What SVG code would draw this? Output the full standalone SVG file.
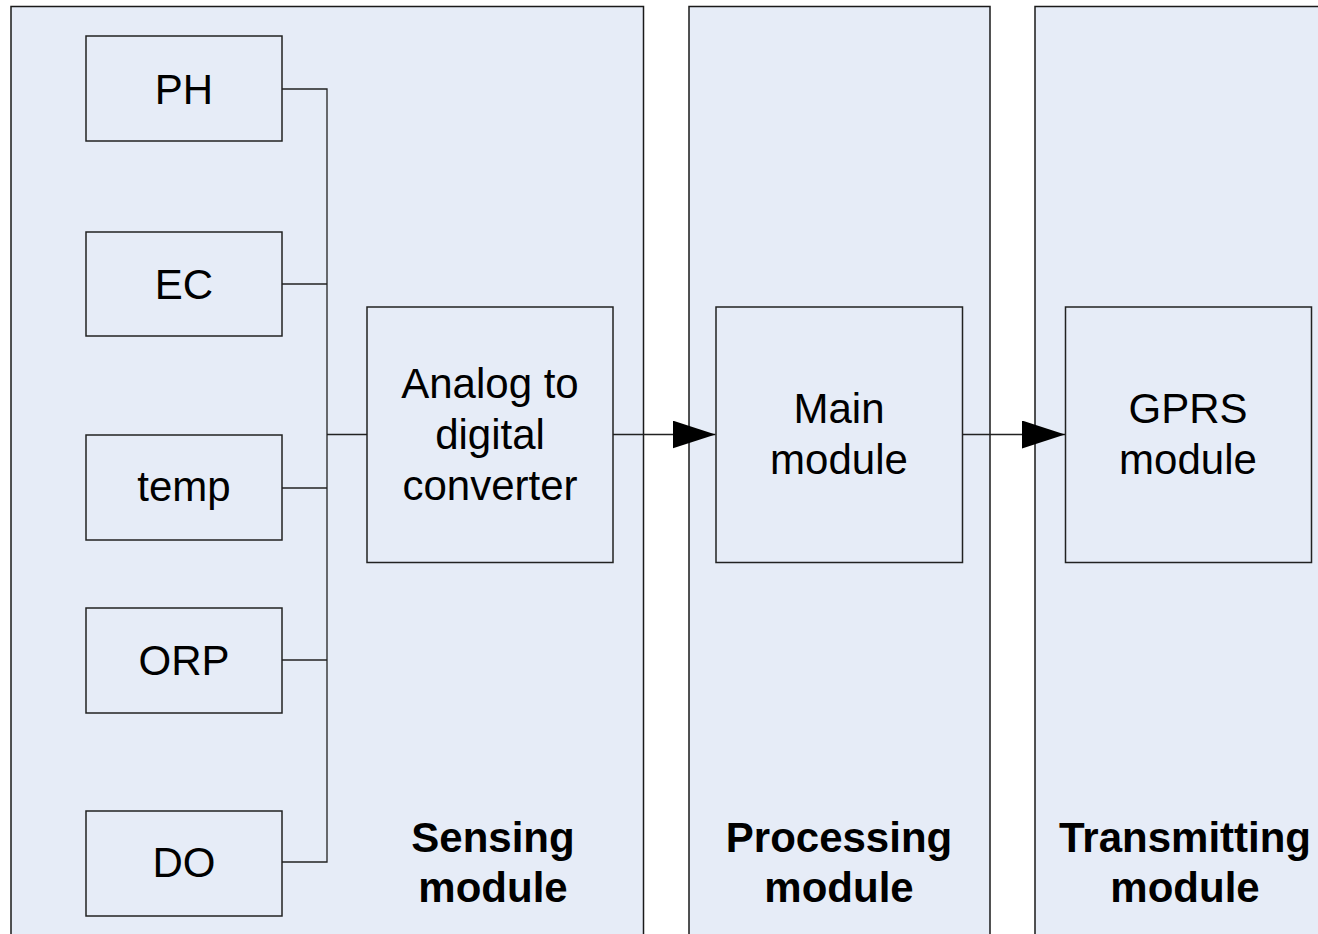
<svg xmlns="http://www.w3.org/2000/svg" width="1318" height="934" viewBox="0 0 1318 934">
  <style>
    .panel { fill: #E6ECF7; stroke: #1a1a1a; stroke-width: 1.5; }
    .box { fill: #E6ECF7; stroke: #222; stroke-width: 1.5; }
    .wire { fill: none; stroke: #222; stroke-width: 1.3; }
    .lbl { font-family: "Liberation Sans", Arial, sans-serif; font-size: 42px; fill: #000; text-anchor: middle; }
    .ttl { font-family: "Liberation Sans", Arial, sans-serif; font-size: 42px; font-weight: bold; fill: #000; text-anchor: middle; }
  </style>
  <defs>
    <marker id="head" markerWidth="43" markerHeight="28" refX="43" refY="14" orient="auto" markerUnits="userSpaceOnUse">
      <polygon points="0,0 43,14 0,28" fill="#000"/>
    </marker>
  </defs>
  <rect width="1318" height="934" fill="#fff"/>

  <!-- module panels -->
  <g id="sensing-panel">
    <rect class="panel" x="11" y="6.5" width="632.5" height="940"/>
    <text class="ttl" x="493" y="852">Sensing</text>
    <text class="ttl" x="493" y="902">module</text>
  </g>
  <g id="processing-panel">
    <rect class="panel" x="689" y="6.5" width="301" height="940"/>
    <text class="ttl" x="839" y="852">Processing</text>
    <text class="ttl" x="839" y="902">module</text>
  </g>
  <g id="transmitting-panel">
    <rect class="panel" x="1035" y="6.5" width="300" height="940"/>
    <text class="ttl" x="1185" y="852">Transmitting</text>
    <text class="ttl" x="1185" y="902">module</text>
  </g>

  <!-- sensors -->
  <g id="ph">
    <rect class="box" x="86" y="36" width="196" height="105"/>
    <text class="lbl" x="184" y="104">PH</text>
  </g>
  <g id="ec">
    <rect class="box" x="86" y="232" width="196" height="104"/>
    <text class="lbl" x="184" y="299">EC</text>
  </g>
  <g id="temp">
    <rect class="box" x="86" y="435" width="196" height="105"/>
    <text class="lbl" x="184" y="501">temp</text>
  </g>
  <g id="orp">
    <rect class="box" x="86" y="608" width="196" height="105"/>
    <text class="lbl" x="184" y="675">ORP</text>
  </g>
  <g id="do">
    <rect class="box" x="86" y="811" width="196" height="105"/>
    <text class="lbl" x="184" y="877">DO</text>
  </g>

  <!-- processing chain -->
  <g id="adc">
    <rect class="box" x="367" y="307" width="246" height="255.5"/>
    <text class="lbl" x="490" y="398">Analog to</text>
    <text class="lbl" x="490" y="449">digital</text>
    <text class="lbl" x="490" y="500">converter</text>
  </g>
  <g id="main">
    <rect class="box" x="716" y="307" width="246.5" height="255.5"/>
    <text class="lbl" x="839" y="423">Main</text>
    <text class="lbl" x="839" y="474">module</text>
  </g>
  <g id="gprs">
    <rect class="box" x="1065.5" y="307" width="246" height="255.5"/>
    <text class="lbl" x="1188" y="423">GPRS</text>
    <text class="lbl" x="1188" y="474">module</text>
  </g>

  <!-- connectors -->
  <g id="connectors">
    <path class="wire" d="M282,89 H327 V862 H282"/>
    <path class="wire" d="M282,284 H327"/>
    <path class="wire" d="M282,488 H327"/>
    <path class="wire" d="M282,660 H327"/>
    <path class="wire" d="M327,434.5 H367"/>
    <path class="wire" d="M613,434.5 H715.5" marker-end="url(#head)"/>
    <path class="wire" d="M962.5,434.5 H1065" marker-end="url(#head)"/>
  </g>
</svg>
